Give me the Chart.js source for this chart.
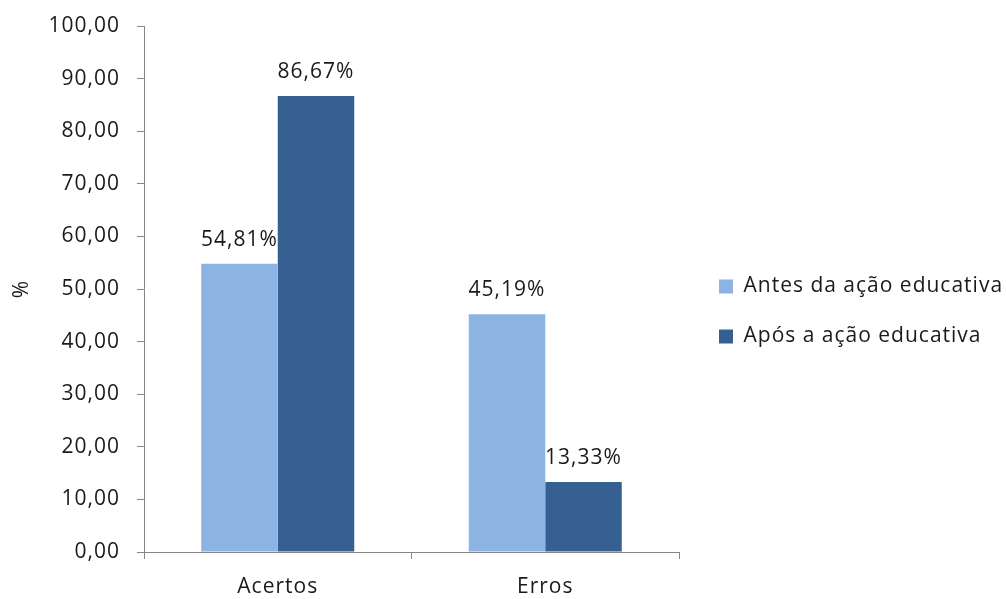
<!DOCTYPE html>
<html>
<head>
<meta charset="utf-8">
<script src="https://cdn.jsdelivr.net/npm/chart.js@4.4.1/dist/chart.umd.min.js"></script>
<style>
html,body{margin:0;padding:0;background:#fff;}
#wrap{width:1006px;height:599px;}
</style>
</head>
<body>
<div id="wrap"><canvas id="grafico"></canvas></div>
<script>
// categorias e valores (%)
const categorias = ['Acertos', 'Erros'];
const antes = [54.81, 45.19];
const apos = [86.67, 13.33];
const nomesSeries = ['Antes da ação educativa', 'Após a ação educativa'];

const fonte = "'Open Sans', sans-serif";
const tamanho = 21;
const corEixo = '#868686';
const corTexto = '#1a1a1a';

function virgula(v){
  return v.toFixed(2).replace('.', ',');
}

// espaçamento entre letras (o canvas perde isso quando é redimensionado,
// por isso é reaplicado antes de medir e antes de desenhar)
const espacamento = {
  id: 'espacamento',
  beforeUpdate(chart){ chart.ctx.letterSpacing = '1px'; },
  beforeDraw(chart){ chart.ctx.letterSpacing = '1px'; }
};

// coluna da legenda com largura fixa, itens um pouco afastados do gráfico
const colunaLegenda = {
  id: 'colunaLegenda',
  beforeLayout(chart){
    const lg = chart.legend;
    if (lg && !lg._larguraFixa) {
      const fitOriginal = lg.fit.bind(lg);
      lg.fit = function(){
        fitOriginal();
        this.width = 327;
      };
      lg._larguraFixa = true;
    }
  },
  afterLayout(chart){
    chart.legend.left += 11;
    chart.legend.top -= 2;
  }
};

// rótulos de valor acima de cada barra
const rotulos = {
  id: 'rotulos',
  afterDatasetsDraw(chart){
    const ctx = chart.ctx;
    ctx.save();
    ctx.font = tamanho + 'px ' + fonte;
    ctx.fillStyle = corTexto;
    ctx.textAlign = 'center';
    ctx.textBaseline = 'alphabetic';
    chart.data.datasets.forEach((ds, i) => {
      chart.getDatasetMeta(i).data.forEach((bar, j) => {
        ctx.fillText(virgula(ds.data[j]) + '%', bar.x, bar.y - 18);
      });
    });
    ctx.restore();
  }
};

new Chart(document.getElementById('grafico'), {
  type: 'bar',
  data: {
    labels: categorias,
    datasets: [{
      label: nomesSeries[0],
      data: antes,
      backgroundColor: '#8DB3E2'
    },{
      label: nomesSeries[1],
      data: apos,
      backgroundColor: '#376092'
    }]
  },
  options: {
    responsive: true,
    maintainAspectRatio: false,
    animation: false,
    layout: { padding: { top: 26, right: 0, bottom: 0, left: 0 } },
    datasets: { bar: { categoryPercentage: 0.572, barPercentage: 1 } },
    plugins: {
      legend: {
        position: 'right',
        labels: {
          boxWidth: 14,
          boxHeight: 14,
          padding: 29,
          color: corTexto,
          font: { family: fonte, size: tamanho }
        }
      },
      tooltip: { enabled: false }
    },
    scales: {
      x: {
        grid: { drawOnChartArea: false, tickLength: 7, color: corEixo },
        border: { color: corEixo },
        ticks: { color: corTexto, padding: 15, font: { family: fonte, size: tamanho } },
        afterFit(scale){ scale.height = 47; }
      },
      y: {
        min: 0,
        max: 100,
        ticks: {
          stepSize: 10,
          padding: 17,
          color: corTexto,
          font: { family: fonte, size: tamanho },
          callback: v => virgula(v)
        },
        grid: { drawOnChartArea: false, tickLength: 7, color: corEixo },
        border: { color: corEixo },
        title: { display: true, text: '%', color: corTexto, padding: { top: 9, bottom: 0 }, font: { family: fonte, size: tamanho } },
        afterFit(scale){
          scale.width = 144;
          scale.paddingTop = 0;
          scale.paddingBottom = 0;
        }
      }
    }
  },
  plugins: [espacamento, colunaLegenda, rotulos]
});
</script>
</body>
</html>
